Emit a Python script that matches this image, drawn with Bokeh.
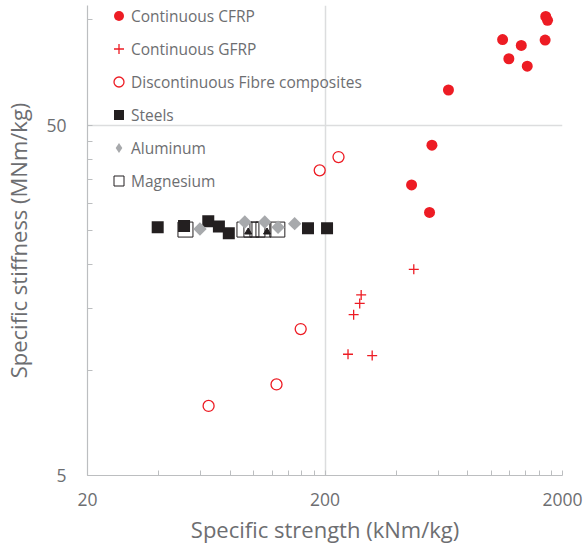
import numpy as np
from bokeh.plotting import figure
from bokeh.models import FixedTicker, Legend, LegendItem, Range1d, CustomJSTickFormatter
from bokeh.embed import file_html
from bokeh.resources import INLINE

# ---- data ----
cfrp_x = [1700, 1730, 1119, 1341, 1690, 1189, 1421, 662, 564, 463, 551]
cfrp_y = [102.4, 99.8, 87.9, 84.6, 87.6, 77.5, 73.8, 63.1, 43.9, 33.8, 28.2]
gfrp_x = [473, 284, 280, 264, 250, 316]
gfrp_y = [19.4, 16.4, 15.5, 14.4, 11.1, 11.0]
disc_x = [228, 190, 158, 125, 64.7]
disc_y = [40.6, 37.2, 13.1, 9.1, 7.9]
steel_x = [39.5, 51.0, 64.5, 71.5, 78.7, 169.6, 204]
steel_y = [25.6, 25.8, 26.6, 25.7, 24.6, 25.4, 25.4]
al_x = [59.5, 91.9, 111.5, 126.9, 149]
al_y = [25.3, 26.5, 26.5, 25.6, 26.2]
mg_x = [51.7, 91.6, 98, 103.9, 110.1, 126]
mg_y = [25.2, 25.2, 25.2, 25.2, 25.2, 25.2]
other_x = [95, 114]
other_y = [24.8, 24.8]

x_major = [20, 200, 2000]
x_minor = [40, 60, 80, 100, 120, 140, 160, 180, 400, 600, 800, 1000, 1200, 1400, 1600, 1800]
y_major = [5, 50]
y_minor = [10, 15, 20, 25, 30, 35, 40, 45, 100]

RED = "#ED1C24"
BLACK = "#231F20"
GREY = "#A7A9AC"
TXT = "#6D6E71"
FONT = "Open Sans"

W, H = 584, 546
BL, BR, BT, BB = 86, 22, 5, 71

p = figure(width=W, height=H, x_axis_type="log", y_axis_type="log",
           x_range=Range1d(20, 2000), y_range=Range1d(5, 110),
           output_backend="svg", toolbar_location=None,
           min_border_left=BL, min_border_right=BR, min_border_top=BT, min_border_bottom=BB)
p.outline_line_color = None
p.background_fill_color = "white"

for ax, ticks, minors in ((p.xaxis[0], x_major, x_minor), (p.yaxis[0], y_major, y_minor)):
    ax.ticker = FixedTicker(ticks=ticks, minor_ticks=minors)
    ax.formatter = CustomJSTickFormatter(code="return String(tick);")
    ax.axis_line_color = "#BCBEC0"
    ax.axis_line_width = 1.2
    ax.major_tick_line_color = "#BCBEC0"
    ax.minor_tick_line_color = "#BCBEC0"
    ax.major_tick_in = 5
    ax.major_tick_out = 0
    ax.minor_tick_in = 5
    ax.minor_tick_out = 0
    ax.major_label_text_font = FONT
    ax.major_label_text_font_size = "17.5px"
    ax.major_label_text_color = TXT
    ax.axis_label_text_font = FONT
    ax.axis_label_text_font_style = "normal"
    ax.axis_label_text_color = TXT
    ax.axis_label_text_font_size = "22px"
p.xaxis[0].axis_label = "Specific strength (kNm/kg)"
p.yaxis[0].axis_label = "Specific stiffness (MNm/kg)"
p.xaxis[0].major_label_standoff = 17
p.yaxis[0].major_label_standoff = 21
p.xaxis[0].axis_label_standoff = 5
p.yaxis[0].axis_label_standoff = 10

p.xgrid.ticker = FixedTicker(ticks=x_major)
p.ygrid.ticker = FixedTicker(ticks=y_major)
p.xgrid.grid_line_color = "#DCDDDE"
p.ygrid.grid_line_color = "#DCDDDE"
p.xgrid.grid_line_width = 1.5
p.ygrid.grid_line_width = 1.5

# glyphs
r_mg = p.scatter(mg_x, mg_y, marker="square", size=15, fill_color=None,
                 line_color=BLACK, line_width=1)
r_st = p.scatter(steel_x, steel_y, marker="square", size=12, fill_color=BLACK,
                 line_color=BLACK, line_width=0)
# diamond swatch (hidden under the rotated squares) used for the legend entry
r_al_leg = p.scatter(al_x, al_y, marker="diamond", size=10, fill_color=GREY,
                     line_color=GREY, line_width=0)
p.scatter(al_x, al_y, marker="square", angle=np.pi / 4, size=9.5,
          fill_color=GREY, line_color=GREY, line_width=0)
p.scatter(other_x, other_y, marker="triangle", size=7, fill_color=BLACK, line_color=BLACK)
r_cf = p.scatter(cfrp_x, cfrp_y, marker="circle", size=11, fill_color=RED,
                 line_color=RED, line_width=0)
r_gf = p.scatter(gfrp_x, gfrp_y, marker="cross", size=10, line_color=RED, line_width=1.3)
r_dc = p.scatter(disc_x, disc_y, marker="circle", size=11, fill_color=None,
                 line_color=RED, line_width=1.3)

items = [
    LegendItem(label="Continuous CFRP", renderers=[r_cf]),
    LegendItem(label="Continuous GFRP", renderers=[r_gf]),
    LegendItem(label="Discontinuous Fibre composites", renderers=[r_dc]),
    LegendItem(label="Steels", renderers=[r_st]),
    LegendItem(label="Aluminum", renderers=[r_al_leg]),
    LegendItem(label="Magnesium", renderers=[r_mg]),
]
rows = len(items)
gh = 25
sp = 8
leg_h = rows * gh + (rows - 1) * sp
frame_h = H - BT - BB
legend = Legend(items=items, location=(19, frame_h - leg_h + 2),
                glyph_width=gh, glyph_height=gh, spacing=sp, padding=0, margin=0,
                label_standoff=0, border_line_color=None, background_fill_alpha=0,
                label_text_font=FONT, label_text_font_size="15.5px", label_text_color=TXT)
p.add_layout(legend, "center")

open("out.html", "w").write(file_html(p, INLINE))
